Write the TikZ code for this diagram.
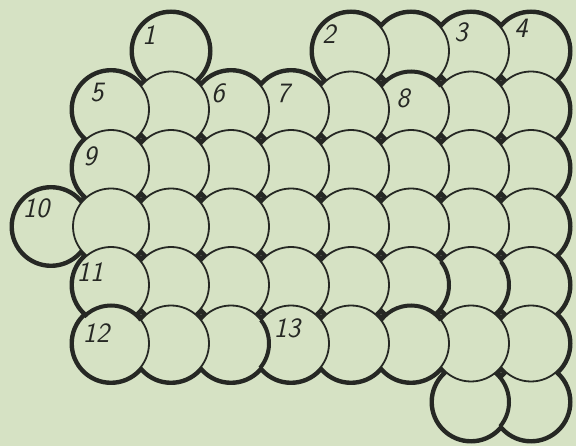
\documentclass[tikz,border=0pt]{standalone}
\definecolor{paper}{RGB}{214,226,196}
\definecolor{ink}{RGB}{38,40,36}
\tikzset{
  scalering/.style={fill=paper, draw=ink, line width=1.8pt},
  cutline/.style={draw=ink, line width=4pt},
  num/.style={font=\sffamily\itshape\fontsize{28}{28}\selectfont, text=ink, inner sep=0pt},
}
\begin{document}
\begin{tikzpicture}[x=1pt,y=1pt]
    \fill[paper] (0,0) rectangle (576,-446);
    \useasboundingbox (0,0) rectangle (576,-446);
    % heavy rim round the whole patch
    \foreach \c/\r in {-1/3,6/6,7/6,1/0,4/0,5/0,6/0,7/0}
        \fill[ink] ({111+60*\c},{-51-58.5*\r}) circle (41.5);
    \foreach \r in {1,...,5} \foreach \c in {0,...,7}
        \fill[ink] ({111+60*\c},{-51-58.5*\r}) circle (41.5);
    % scales, back to front
    \foreach \c/\r in {-1/3,7/6,6/6,7/0,6/0,5/0,4/0,1/0}
        \draw[scalering] ({111+60*\c},{-51-58.5*\r}) circle (38);
    \foreach \r in {1,...,5} \foreach \c in {7,6,...,0}
        \draw[scalering] ({111+60*\c},{-51-58.5*\r}) circle (38);
    % Cuts
    \draw[cutline] (411,-109.5) ++(142:38) arc[start angle=142, end angle=38, radius=38];
    \draw[cutline] (111,-343.5) ++(135:38) arc[start angle=135, end angle=38, radius=38];
    \draw[cutline] (231,-343.5) ++(38:38) arc[start angle=38, end angle=-40, radius=38];
    \draw[cutline] (411,-343.5) ++(142:38) arc[start angle=142, end angle=38, radius=38];
    \draw[cutline] (411,-285) ++(38:38) arc[start angle=38, end angle=-50, radius=38];
    \draw[cutline] (471,-285) ++(38:38) arc[start angle=38, end angle=-50, radius=38];
    \draw[cutline] (471,-402) ++(50:38) arc[start angle=50, end angle=-40, radius=38];
    % Numbers
    \node[num] (n1) at (149,-35) {1}; \node[num] (n2) at (329,-34) {2};
    \node[num] (n3) at (461,-32) {3}; \node[num] (n4) at (521,-28) {4};
    \node[num] (n5) at (97,-93) {5}; \node[num] (n6) at (218,-93) {6};
    \node[num] (n7) at (283,-93) {7}; \node[num] (n8) at (403,-98) {8};
    \node[num] (n9) at (90,-156) {9}; \node[num] (n10) at (36,-208) {10};
    \node[num] (n11) at (90,-272) {11}; \node[num] (n12) at (96,-333) {12};
    \node[num] (n13) at (287,-328) {13};
\end{tikzpicture}
\end{document}
